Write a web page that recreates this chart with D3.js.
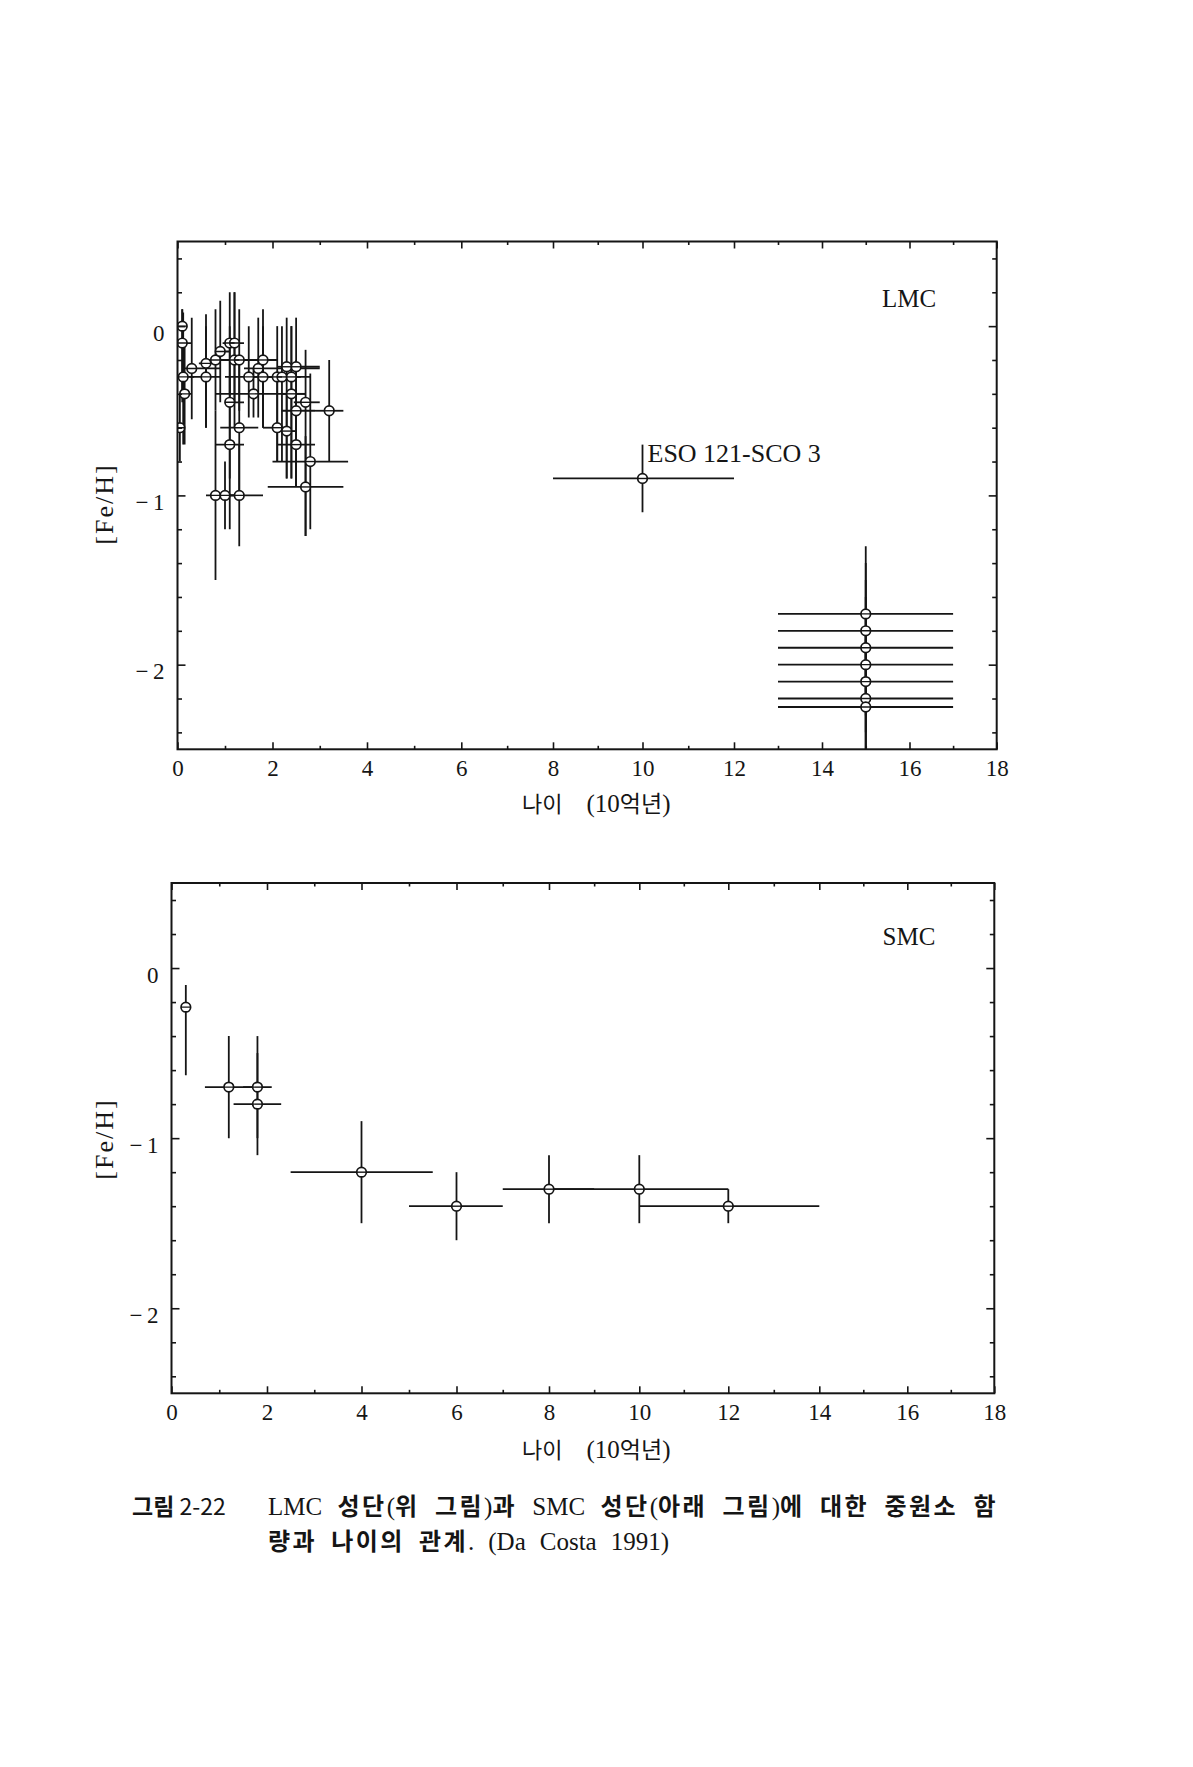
<!DOCTYPE html>
<html>
<head>
<meta charset="utf-8">
<script src="https://cdn.jsdelivr.net/npm/d3@7"></script>
<style>
  body { margin: 0; background: #fff; }
  text { fill: #151515; }
</style>
</head>
<body>
<svg id="fig" width="1193" height="1767"></svg>
<script>
// each row: age (Gyr), [Fe/H], age min, age max, [Fe/H] min, [Fe/H] max
const lmcYoung = [
  [0.10,  0.00, 0.02, 0.20, -0.40,  0.10],
  [0.10, -0.10, 0.02, 0.30, -0.45,  0.10],
  [0.12, -0.30, 0.02, 0.35, -0.70,  0.08],
  [0.15, -0.40, 0.05, 0.30, -0.70, -0.10],
  [0.05, -0.60, 0.02, 0.12, -0.80, -0.40],
  [0.30, -0.25, 0.15, 0.90, -0.55,  0.05],
  [0.60, -0.22, 0.45, 0.90, -0.60,  0.07],
  [0.60, -0.30, 0.25, 0.90, -0.60,  0.00],
  [0.80, -0.20, 0.60, 1.00, -0.50,  0.10],
  [0.80, -1.00, 0.60, 1.20, -1.50, -0.50],
  [0.90, -0.15, 0.80, 1.10, -0.45,  0.15],
  [1.10, -0.10, 0.95, 1.30, -0.40,  0.20],
  [1.20, -0.10, 1.00, 1.40, -0.45,  0.20],
  [1.20, -0.20, 0.90, 1.60, -0.60,  0.20],
  [1.30, -0.20, 1.10, 2.10, -0.50,  0.10],
  [1.10, -0.45, 1.00, 1.40, -0.90,  0.00],
  [1.30, -0.60, 0.90, 1.70, -1.00, -0.20],
  [1.10, -0.70, 0.80, 1.40, -1.20, -0.30],
  [1.00, -1.00, 0.80, 1.20, -1.20, -0.80],
  [1.30, -1.00, 1.10, 1.80, -1.30, -0.70],
  [1.50, -0.30, 1.00, 2.00, -0.54,  0.00],
  [1.70, -0.25, 1.40, 3.00, -0.54,  0.05],
  [1.80, -0.20, 1.40, 2.10, -0.60,  0.10],
  [1.80, -0.30, 1.50, 2.50, -0.60,  0.00],
  [1.60, -0.40, 0.80, 2.70, -0.54, -0.25],
  [2.10, -0.30, 1.90, 2.50, -0.80,  0.00],
  [2.20, -0.30, 2.00, 2.60, -0.80,  0.00],
  [2.40, -0.30, 2.10, 2.80, -0.90,  0.00],
  [2.30, -0.24, 2.10, 2.60, -0.90,  0.05],
  [2.50, -0.24, 2.30, 3.00, -0.95,  0.05],
  [2.40, -0.40, 2.20, 2.70, -0.90,  0.00],
  [2.70, -0.45, 2.45, 3.00, -1.24, -0.14],
  [2.50, -0.50, 2.20, 2.90, -0.95, -0.20],
  [3.20, -0.50, 2.90, 3.50, -0.80, -0.20],
  [2.10, -0.60, 1.80, 2.30, -0.80, -0.30],
  [2.30, -0.62, 2.10, 2.50, -0.90, -0.40],
  [2.50, -0.70, 2.10, 2.90, -0.95, -0.45],
  [2.80, -0.80, 2.00, 3.60, -1.20, -0.28],
  [2.70, -0.95, 1.90, 3.50, -1.24, -0.65]
];
const lmcEso = [[10, -0.90, 8, 12, -1.10, -0.70]];
const lmcOld = [
  [15, -1.70, 13, 17, -2.10, -1.30],
  [15, -1.80, 13, 17, -2.20, -1.40],
  [15, -1.90, 13, 17, -2.30, -1.50],
  [15, -2.00, 13, 17, -2.40, -1.60],
  [15, -2.10, 13, 17, -2.50, -1.70],
  [15, -2.20, 13, 17, -2.60, -1.80],
  [15, -2.25, 13, 17, -2.65, -1.85]
];
const smcClusters = [
  [0.3, -0.23, 0.3, 0.3, -0.63, -0.10],
  [1.2, -0.70, 0.7, 1.7, -1.00, -0.40],
  [1.8, -0.70, 1.5, 2.1, -1.00, -0.40],
  [1.8, -0.80, 1.3, 2.3, -1.10, -0.50],
  [4,   -1.20, 2.5, 5.5, -1.50, -0.90],
  [6,   -1.40, 5,   7,   -1.60, -1.20],
  [8,   -1.30, 7,   9,   -1.50, -1.10],
  [10,  -1.30, 8,   12,  -1.50, -1.10],
  [12,  -1.40, 10,  14,  -1.50, -1.30]
];

const xLabelTicks = [0, 2, 4, 6, 8, 10, 12, 14, 16, 18];
const xMinorTicks = [1, 3, 5, 7, 9, 11, 13, 15, 17];
const yLabelTicks = [0, -1, -2];
const yMinorTicks = [0.4, 0.2, -0.2, -0.4, -0.6, -0.8, -1.2, -1.4, -1.6, -1.8, -2.2, -2.4];

const serif = '"Liberation Serif", "Times New Roman", serif';
const gothic = '"Noto Sans CJK KR", sans-serif';
const ink = '#151515';

const svg = d3.select('#fig');
svg.append('rect').attr('width', 1193).attr('height', 1767).attr('fill', '#fff');

// the scan is a little stretched on the left, so the x scale follows the printed ticks
const panels = [
  { name: 'LMC', data: lmcYoung.concat(lmcEso, lmcOld), top: 241.5, bottom: 749.3,
    xRange: [177.5, 272.5, 367, 461.3, 553, 642.5, 734, 822, 909.5, 996.7],
    tag: [882, 307], titleX: 522, titleY: 812, yTitle: 504,
    note: { age: 10, text: 'ESO 121-SCO 3' } },
  { name: 'SMC', data: smcClusters, top: 883, bottom: 1393.3,
    xRange: [171.5, 267, 361.5, 456.5, 549, 639.3, 728.3, 819.3, 907.3, 994.3],
    tag: [882.5, 945], titleX: 522, titleY: 1458, yTitle: 1139 }
];

const fmt = d => d === 0 ? '0' : '\u2212\u2009' + Math.abs(d);
const r = 4.8;

function drawPanel(p) {
  const x = d3.scaleLinear().domain(xLabelTicks).range(p.xRange);
  const y = d3.scaleLinear().domain([-2.5, 0.5]).range([p.bottom, p.top]);
  const left = x(0), right = x(18);
  const g = svg.append('g');

  g.append('clipPath').attr('id', 'clip-' + p.name)
    .append('rect')
    .attr('x', left).attr('y', p.top)
    .attr('width', right - left).attr('height', p.bottom - p.top);

  const marks = g.append('g').attr('clip-path', `url(#clip-${p.name})`)
    .attr('stroke', ink).attr('stroke-width', 1.8);

  marks.selectAll('line.v').data(p.data).join('line').attr('class', 'v')
    .attr('x1', d => x(d[0])).attr('x2', d => x(d[0]))
    .attr('y1', d => y(d[5])).attr('y2', d => y(d[4]));

  marks.selectAll('line.h').data(p.data.filter(d => d[3] > d[2])).join('line').attr('class', 'h')
    .attr('x1', d => x(d[2])).attr('x2', d => x(d[3]))
    .attr('y1', d => y(d[1])).attr('y2', d => y(d[1]));

  marks.selectAll('circle').data(p.data).join('circle')
    .attr('cx', d => x(d[0])).attr('cy', d => y(d[1])).attr('r', r)
    .attr('fill', '#fff').attr('stroke-width', 1.7);

  marks.selectAll('line.c').data(p.data).join('line').attr('class', 'c')
    .attr('x1', d => x(d[0]) - r).attr('x2', d => x(d[0]) + r)
    .attr('y1', d => y(d[1])).attr('y2', d => y(d[1]))
    .attr('stroke-width', 1.4);

  // frame
  g.append('rect')
    .attr('x', left).attr('y', p.top)
    .attr('width', right - left).attr('height', p.bottom - p.top)
    .attr('fill', 'none').attr('stroke', ink).attr('stroke-width', 2);

  const style = sel => {
    sel.select('.domain').remove();
    sel.selectAll('line').attr('stroke', ink).attr('stroke-width', 1.6);
    sel.attr('font-family', serif).attr('font-size', 23);
    sel.selectAll('text').attr('fill', ink);
  };

  g.append('g').attr('transform', `translate(0,${p.bottom})`)
    .call(d3.axisBottom(x).tickValues(xLabelTicks).tickSize(-7).tickPadding(10)).call(style);
  g.append('g').attr('transform', `translate(0,${p.bottom})`)
    .call(d3.axisBottom(x).tickValues(xMinorTicks).tickSize(-3.5).tickFormat('')).call(style);
  g.append('g').attr('transform', `translate(0,${p.top})`)
    .call(d3.axisTop(x).tickValues(xLabelTicks).tickSize(-7).tickFormat('')).call(style);
  g.append('g').attr('transform', `translate(0,${p.top})`)
    .call(d3.axisTop(x).tickValues(xMinorTicks).tickSize(-3.5).tickFormat('')).call(style);

  g.append('g').attr('transform', `translate(${left},0)`)
    .call(d3.axisLeft(y).tickValues(yLabelTicks).tickSize(-8).tickPadding(13).tickFormat(fmt))
    .call(style)
    .selectAll('text').attr('dy', '0.62em');
  g.append('g').attr('transform', `translate(${left},0)`)
    .call(d3.axisLeft(y).tickValues(yMinorTicks).tickSize(-4.5).tickFormat('')).call(style);
  g.append('g').attr('transform', `translate(${right},0)`)
    .call(d3.axisRight(y).tickValues(yLabelTicks).tickSize(-8).tickFormat('')).call(style);
  g.append('g').attr('transform', `translate(${right},0)`)
    .call(d3.axisRight(y).tickValues(yMinorTicks).tickSize(-4.5).tickFormat('')).call(style);

  // galaxy tag
  g.append('text')
    .attr('x', p.tag[0]).attr('y', p.tag[1])
    .attr('font-family', serif).attr('font-size', 25)
    .text(p.name);

  // cluster note hangs from the top of its error bar
  if (p.note) {
    const d = p.data.find(row => row[0] === p.note.age);
    g.append('text')
      .attr('x', x(d[0]) + 5).attr('y', y(d[5]) + 17)
      .attr('font-family', serif).attr('font-size', 26)
      .text(p.note.text);
  }

  // axis titles
  const xt = g.append('text')
    .attr('x', p.titleX).attr('y', p.titleY)
    .attr('font-family', serif).attr('font-size', 25);
  xt.append('tspan').attr('font-family', gothic).attr('font-size', 22).text('나이');
  xt.append('tspan').attr('dx', 24).text('(10');
  xt.append('tspan').attr('font-family', gothic).attr('font-size', 23).text('억년');
  xt.append('tspan').text(')');

  g.append('text')
    .attr('transform', `translate(104,${p.yTitle}) rotate(-90)`)
    .attr('text-anchor', 'middle').attr('dominant-baseline', 'central')
    .attr('font-family', serif).attr('font-size', 26).attr('letter-spacing', 2)
    .text('[Fe/H]');
}

panels.forEach(drawPanel);

// caption: Hangul in bold gothic, latin in serif, word gaps stretched to the print's line width
const captionLines = [
  { x: 132, y: 1515, text: '그림 2-22', width: 0 },
  { x: 268, y: 1515, text: 'LMC 성단(위 그림)과 SMC 성단(아래 그림)에 대한 중원소 함', width: 730 },
  { x: 268, y: 1550, text: '량과 나이의 관계. (Da Costa 1991)', width: 401 }
];

captionLines.forEach((line, i) => {
  const t = svg.append('text').attr('x', line.x).attr('y', line.y);
  line.text.split(/([\uAC00-\uD7A3]+)/).filter(s => s.length).forEach(run => {
    const hangul = /[\uAC00-\uD7A3]/.test(run);
    t.append('tspan')
      .attr('font-family', hangul || i === 0 ? gothic : serif)
      .attr('font-size', i === 0 ? 23 : hangul ? 24 : 25)
      .attr('font-weight', hangul ? 700 : 400)
      .attr('letter-spacing', hangul && i > 0 ? 2.5 : 0)
      .text(run);
  });
  if (!line.width) return;
  const natural = t.node().getComputedTextLength();
  const gaps = (line.text.match(/ /g) || []).length;
  t.attr('word-spacing', Math.max(0, (line.width - natural) / gaps));
});
</script>
</body>
</html>
